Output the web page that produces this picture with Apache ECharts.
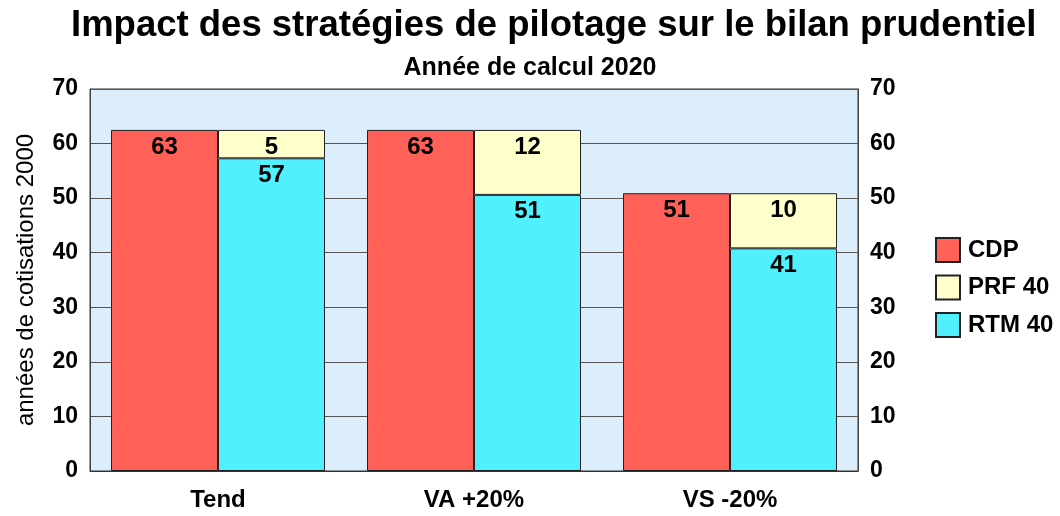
<!DOCTYPE html>
<html>
<head>
<meta charset="utf-8">
<script src="https://cdn.jsdelivr.net/npm/echarts@6/dist/echarts.min.js"></script>
<style>
html, body { margin: 0; padding: 0; background: #fff; }
#chart { width: 1060px; height: 516px; }
</style>
</head>
<body>
<div id="chart"></div>
<script>
var categories = ['Tend', 'VA +20%', 'VS -20%'];
var cdp = [62.5, 62.5, 50.9];
var rtm40 = [57.3, 50.6, 40.8];
var prf40 = [5.2, 11.9, 10.1];
var yTicks = [0, 10, 20, 30, 40, 50, 60, 70];

var font = 'Liberation Sans, Arial, sans-serif';

function barLabel() {
    return {
        show: true,
        position: 'insideTop',
        distance: 5,
        color: '#000',
        fontFamily: font,
        fontWeight: 'bold',
        fontSize: 24,
        formatter: function (p) { return Math.round(p.value); }
    };
}

function valueAxis(pos) {
    return {
        type: 'value',
        position: pos,
        min: yTicks[0],
        max: yTicks[yTicks.length - 1],
        interval: 10,
        axisLine: { show: true, lineStyle: { color: '#444', width: 1 } },
        axisTick: { show: false },
        splitLine: { show: pos === 'left', lineStyle: { color: '#555', width: 1 } },
        axisLabel: {
            color: '#000', fontFamily: font, fontWeight: 'bold', fontSize: 23,
            margin: 12
        }
    };
}

var chart = echarts.init(document.getElementById('chart'));
var left = valueAxis('left');
left.name = 'années de cotisations 2000';
left.nameLocation = 'middle';
left.nameGap = 52;
left.nameTextStyle = { color: '#000', fontFamily: font, fontSize: 24 };

chart.setOption({
    animation: false,
    title: [{
        text: 'Impact des stratégies de pilotage sur le bilan prudentiel',
        left: 66,
        top: 2,
        textStyle: { color: '#000', fontFamily: font, fontWeight: 'bold', fontSize: 36.5 }
    }, {
        text: 'Année de calcul 2020',
        left: 'center',
        top: 51,
        textStyle: { color: '#000', fontFamily: font, fontWeight: 'bold', fontSize: 25 }
    }],
    legend: {
        orient: 'vertical',
        left: 930,
        top: 232,
        icon: 'rect',
        itemWidth: 24,
        itemHeight: 24,
        itemGap: 11.5,
        data: ['CDP', 'PRF 40', 'RTM 40'],
        textStyle: { color: '#000', fontFamily: font, fontWeight: 'bold', fontSize: 24, padding: [0, 0, 0, 3] }
    },
    grid: {
        left: 90, right: 202, top: 89, bottom: 45,
        outerBoundsMode: 'none',
        show: true,
        backgroundColor: '#dcedfc',
        borderColor: '#333',
        borderWidth: 1
    },
    xAxis: {
        type: 'category',
        data: categories,
        axisLine: { lineStyle: { color: '#333' } },
        axisTick: { show: false },
        axisLabel: { color: '#000', fontFamily: font, fontWeight: 'bold', fontSize: 24, margin: 17 }
    },
    yAxis: [left, valueAxis('right')],
    series: [{
        name: 'CDP',
        type: 'bar',
        barWidth: 107,
        barGap: '0%',
        data: cdp,
        itemStyle: { color: '#ff6159', borderColor: '#222', borderWidth: 1 },
        label: barLabel()
    }, {
        name: 'RTM 40',
        type: 'bar',
        stack: 'rp',
        barWidth: 107,
        data: rtm40,
        itemStyle: { color: '#50f0ff', borderColor: '#222', borderWidth: 1 },
        label: barLabel()
    }, {
        name: 'PRF 40',
        type: 'bar',
        stack: 'rp',
        barWidth: 107,
        data: prf40,
        itemStyle: { color: '#ffffcc', borderColor: '#222', borderWidth: 1 },
        label: barLabel()
    }]
});
</script>
</body>
</html>
